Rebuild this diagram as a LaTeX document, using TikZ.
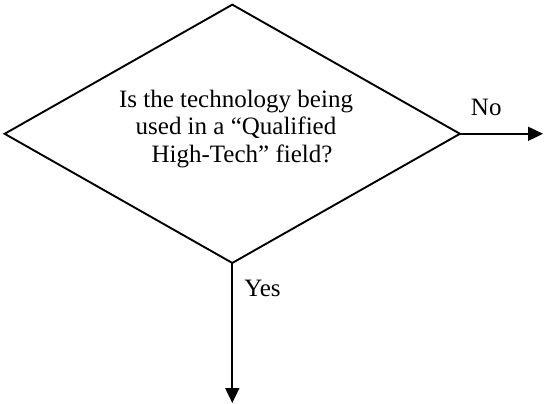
\documentclass[tikz,border=0pt]{standalone}
\usepackage{fontspec}
\setmainfont{Liberation Serif}
\usetikzlibrary{shapes.geometric, arrows.meta}

\tikzset{
  decision/.style={draw, diamond, inner sep=0pt, outer sep=0pt,
    minimum width=455.3pt, minimum height=258.3pt, aspect=1.76},
  question/.style={align=center, inner sep=0pt,
    font=\fontsize{25pt}{27.5pt}\selectfont},
  answer/.style={inner sep=0pt, font=\fontsize{25pt}{27.5pt}\selectfont},
  flow/.style={-{Triangle[length=15pt, width=14pt]}}
}

\begin{document}
\begin{tikzpicture}[x=1pt, y=-1pt, line width=1.9pt]
  \useasboundingbox (0,0) rectangle (546,404);

  % decision diamond and its question
  \node[decision] (d) at (232.3,133.8) {};
  \node[question] (q) at (236,128.8)
    {Is the technology being\\used in a “Qualified\\\hspace*{12pt}High-Tech” field?};

  % outgoing branches
  \coordinate (noend) at (543,133.8);
  \coordinate (yesend) at (232.3,403);
  \draw[flow] (d.east) -- (noend);
  \draw[flow] (d.south) -- (yesend);

  % branch labels
  \node[answer, anchor=base west] (no) at (470,115) {No};
  \node[answer, anchor=base west] (yes) at (243.3,296.7) {Yes};
\end{tikzpicture}
\end{document}
